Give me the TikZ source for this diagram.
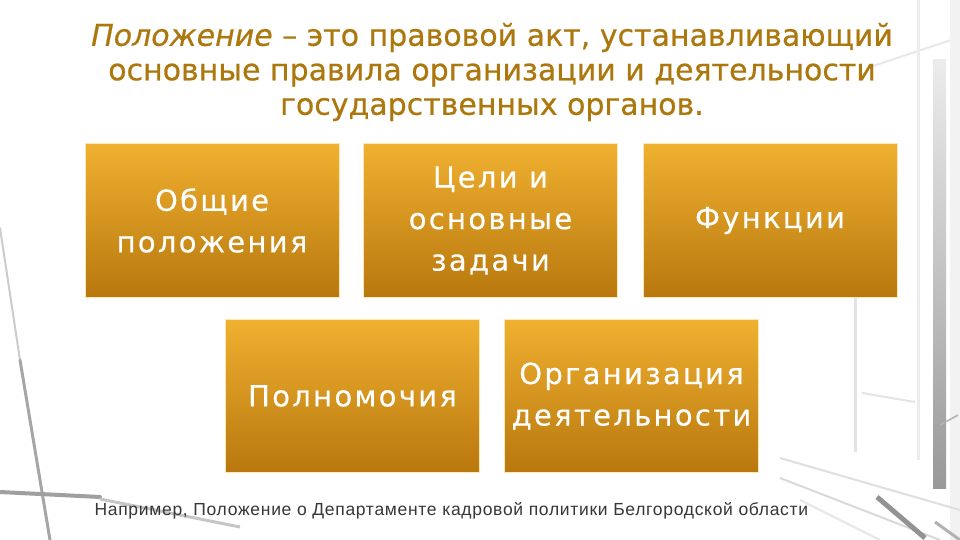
\documentclass[tikz,border=0pt]{standalone}
\usepackage{fontspec}
\setmainfont{Liberation Sans}
\newfontfamily\boxfont{DejaVu Sans}[LetterSpace=8,FakeBold=0.4]
\newfontfamily\titlefont{DejaVu Sans}[FakeBold=0.6]
\newfontfamily\notefont{Liberation Sans}[LetterSpace=4]
\definecolor{titlegold}{RGB}{172,120,14}
\definecolor{boxtop}{RGB}{240,176,48}
\definecolor{boxbot}{RGB}{184,120,14}
\definecolor{boxedge}{RGB}{252,232,178}
\definecolor{notegray}{RGB}{55,55,55}
\begin{document}
\begin{tikzpicture}[x=1pt,y=-1pt,
  gbox/.style={rectangle, minimum width=254pt, minimum height=153pt, inner sep=0pt,
    draw=boxedge, line width=1pt, top color=boxtop, bottom color=boxbot,
    text=white, align=center, font=\boxfont\fontsize{29}{41.5}\selectfont},
  bgline/.style={line cap=round}]
\useasboundingbox (0,0) rectangle (960,540);
\fill[white] (0,0) rectangle (960,540);
% ---- background: faint photo of window frames ----
% left
\draw[bgline, gray!40, line width=2pt] (0,228) -- (20,360);
\draw[bgline, gray!70, line width=3pt] (20,360) -- (50,540);
\draw[bgline, gray!75, line width=4pt] (0,492) -- (100,497);
\draw[gray!45, line width=3pt] (100,499) -- (240,527);
% right: light frame
\draw[gray!22, line width=3pt] (855,297) -- (855,452);
\draw[gray!20, line width=2pt] (862,393) -- (915,402);
\draw[gray!18, line width=2pt] (870,67) -- (960,37);
\draw[gray!15, line width=3pt] (918,0) -- (918,460);
% right: dark vertical post
\shade[top color=gray!15, bottom color=gray!80] (933,60) rectangle (946,488);
\fill[gray!10] (950,0) rectangle (960,540);
\draw[gray!60, line width=1.5pt] (940,425) -- (958,415);
% bottom frame diagonals
\draw[gray!25, line width=2pt] (780,458) -- (960,510);
\draw[gray!30, line width=2pt] (780,478) -- (940,540);
\draw[gray!20, line width=2pt] (800,500) -- (880,540);
\draw[gray!85, line width=5pt] (877,497) -- (925,538);
\draw[gray!60, line width=3pt] (935,522) -- (960,540);
% ---- title ----
\node[text=titlegold, align=center, font=\titlefont\fontsize{30}{34.5}\selectfont]
  (title) at (492,72) {\textit{Положение} – это правовой акт, устанавливающий\\
  основные правила организации и деятельности\\ государственных органов.};
% ---- boxes ----
\node[gbox] (b1) at (212,220.5) {Общие\\положения};
\node[gbox] (b2) at (490.5,220.5) {Цели и\\основные\\задачи};
\node[gbox] (b3) at (770,220.5) {Функции};
\node[gbox] (b4) at (352.5,396) {Полномочия};
\node[gbox] (b5) at (631.5,396) {Организация\\деятельности};
% ---- note ----
\node[text=notegray, font=\notefont\fontsize{17.5}{20}\selectfont, anchor=base west]
  (note) at (91,515) {Например, Положение о Департаменте кадровой политики Белгородской области};
\end{tikzpicture}
\end{document}
